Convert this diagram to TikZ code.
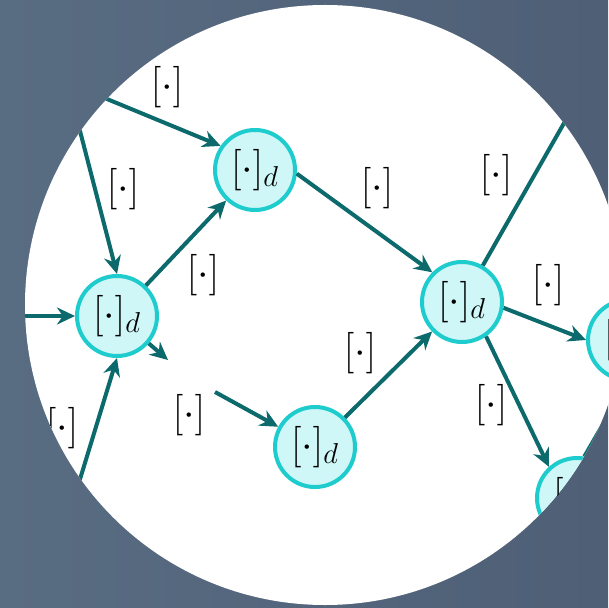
\documentclass[tikz,border=0pt]{standalone}
\usetikzlibrary{arrows.meta, positioning}
\definecolor{edgeteal}{RGB}{12,106,108}
\definecolor{ringcyan}{RGB}{30,204,206}
\definecolor{cellfill}{RGB}{208,247,248}
\definecolor{bgleft}{RGB}{88,108,130}
\definecolor{bgright}{RGB}{78,95,118}

\begin{document}
\begin{tikzpicture}[x=0.5pt, y=-0.5pt,
  every node/.style={font=\fontsize{20}{22}\selectfont},
  cell/.style={circle, draw=ringcyan, line width=2pt, fill=cellfill, minimum size=40pt, inner sep=0pt},
  link/.style={draw=edgeteal, line width=2pt, -{Stealth[length=9pt, width=8.5pt]}},
  bare/.style={draw=edgeteal, line width=2pt},
  tag/.style={inner sep=1pt}]
  \useasboundingbox (0,0) rectangle (608,608);
  % Backdrop and white disc
  \shade[left color=bgleft, right color=bgright] (0,0) rectangle (608,608);
  \fill[white] (325,305) circle (150pt);
  \begin{scope}
    \clip (325,305) circle (150pt);
    % Cells
    \node[cell] (A) at (117,316) {$[\cdot]_d$};
    \node[cell] (B) at (255,170) {$[\cdot]_d$};
    \node[cell] (C) at (462,302) {$[\cdot]_d$};
    \node[cell] (D) at (315,447) {$[\cdot]_d$};
    \node[cell] (E) at (628,340) {$[\cdot]_d$};
    \node[cell] (F) at (577,498) {$[\cdot]_d$};
    % Loose ends
    \coordinate (inA) at (10,316);
    \coordinate (topA) at (72,100);
    \coordinate (topB) at (90,92);
    \coordinate (botA) at (70,512);
    \coordinate (outA) at (168,360);
    \coordinate (inD) at (215,392);
    \coordinate (outC) at (600,60);
    \coordinate (outF) at (640,360);
    % Links
    \draw[link] (inA) -- (A);
    \draw[link] (topA) -- (A.north);
    \draw[link] (botA) -- (A.south);
    \draw[link] (topB) -- (B.145);
    \draw[link] (A) -- (B);
    \draw[link] (A) -- (outA);
    \draw[link] (B.-5) -- (C.135);
    \draw[link] (inD) -- (D);
    \draw[link] (D) -- (C);
    \draw[bare] (C) -- (outC);
    \draw[link] (C.-8) -- (E.west);
    \draw[link] (C.-55) -- (F.132);
    \draw[bare] (F.80) -- (outF);
    % Link labels
    \node[tag] (ltb) at (167,87) {$[\cdot]$};
    \node[tag] (lta) at (123,189) {$[\cdot]$};
    \node[tag] (lab) at (203,275) {$[\cdot]$};
    \node[tag] (lbc) at (377,188) {$[\cdot]$};
    \node[tag] (lco) at (496,175) {$[\cdot]$};
    \node[tag] (lce) at (548,285) {$[\cdot]$};
    \node[tag] (ldc) at (360,353) {$[\cdot]$};
    \node[tag] (lcf) at (491,405) {$[\cdot]$};
    \node[tag] (lid) at (189,415) {$[\cdot]$};
    \node[tag] (lba) at (62,428) {$[\cdot]$};
  \end{scope}
\end{tikzpicture}
\end{document}
